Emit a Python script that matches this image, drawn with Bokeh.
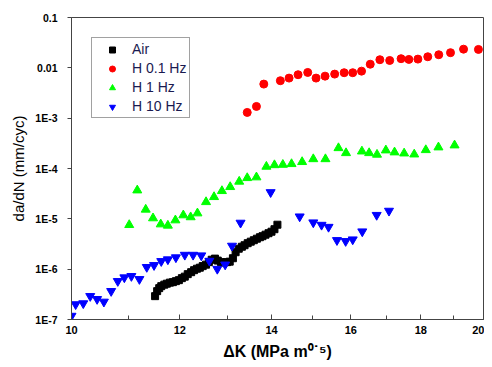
from bokeh.plotting import figure
from bokeh.models import FixedTicker, CustomJSTickFormatter, Legend, LegendItem
from bokeh.embed import file_html
from bokeh.resources import INLINE

# ---------------- data ----------------
air_k = [11.51, 11.55, 11.59, 11.63, 11.69, 11.74, 11.80, 11.86, 11.92, 11.98, 12.04, 12.10,
         12.16, 12.23, 12.29, 12.35, 12.41, 12.47, 12.54, 12.60, 12.66, 12.73, 12.79, 12.86,
         12.92, 12.99, 13.05, 13.12, 13.18, 13.25, 13.32, 13.38, 13.45, 13.52, 13.59, 13.66,
         13.73, 13.79, 13.86, 13.93, 14.00, 14.07, 14.14]
air_dadn = [2.91e-7, 3.66e-7, 4.20e-7, 4.60e-7, 4.92e-7, 5.15e-7, 5.40e-7, 5.52e-7, 5.78e-7,
            6.05e-7, 6.63e-7, 7.10e-7, 7.96e-7, 8.71e-7, 9.55e-7, 1.02e-6, 1.07e-6, 1.15e-6,
            1.23e-6, 1.38e-6, 1.54e-6, 1.62e-6, 1.48e-6, 1.38e-6, 1.35e-6, 1.38e-6, 1.41e-6,
            1.65e-6, 2.17e-6, 2.55e-6, 2.79e-6, 2.99e-6, 3.28e-6, 3.52e-6, 3.76e-6, 4.03e-6,
            4.31e-6, 4.52e-6, 4.84e-6, 5.18e-6, 5.55e-6, 6.22e-6, 7.64e-6]

h01_k = [13.44, 13.65, 13.82, 14.21, 14.42, 14.64, 14.88, 15.09, 15.32, 15.57, 15.82, 16.05,
         16.29, 16.53, 16.80, 17.08, 17.41, 17.64, 17.91, 18.21, 18.55, 18.92, 19.34, 19.83]
h01_dadn = [1.30e-3, 1.71e-3, 4.75e-3, 5.55e-3, 6.25e-3, 7.30e-3, 8.1e-3, 6.25e-3, 6.84e-3,
            7.5e-3, 8.0e-3, 8.0e-3, 8.6e-3, 1.18e-2, 1.45e-2, 1.40e-2, 1.52e-2, 1.47e-2,
            1.49e-2, 1.66e-2, 1.82e-2, 2.0e-2, 2.35e-2, 2.32e-2]

h1_k = [11.02, 11.17, 11.33, 11.47, 11.62, 11.76, 11.91, 12.07, 12.22, 12.36, 12.54, 12.71,
        12.88, 13.06, 13.26, 13.44, 13.65, 13.88, 14.07, 14.27, 14.48, 14.74, 15.02, 15.33,
        15.67, 15.87, 16.30, 16.50, 16.72, 16.97, 17.22, 17.50, 17.80, 18.15, 18.54, 19.05]
h1_dadn = [7.57e-6, 3.69e-5, 1.53e-5, 1.03e-5, 7.8e-6, 7.36e-6, 9.38e-6, 1.18e-5, 1.08e-5,
           1.29e-5, 2.16e-5, 2.72e-5, 3.58e-5, 4.3e-5, 5.5e-5, 6.48e-5, 6.7e-5, 1.09e-4,
           1.17e-4, 1.19e-4, 1.23e-4, 1.35e-4, 1.54e-4, 1.54e-4, 2.55e-4, 2.03e-4, 2.19e-4,
           2.03e-4, 1.89e-4, 2.30e-4, 2.10e-4, 2.0e-4, 1.91e-4, 2.33e-4, 2.64e-4, 2.89e-4]

h10_k = [10.00, 10.07, 10.20, 10.32, 10.44, 10.56, 10.69, 10.81, 10.93, 11.06, 11.21, 11.35,
         11.49, 11.63, 11.76, 11.92, 12.10, 12.27, 12.44, 12.61, 12.78, 12.95, 13.10, 13.29,
         13.98, 14.68, 15.02, 15.23, 15.41, 15.63, 15.86, 16.05, 16.31, 16.71, 17.06]
h10_dadn = [1.18e-7, 2.0e-7, 2.09e-7, 2.91e-7, 2.54e-7, 2.25e-7, 3.66e-7, 5.78e-7, 6.84e-7,
            7.27e-7, 6.33e-7, 1.10e-6, 1.20e-6, 1.44e-6, 1.56e-6, 1.71e-6, 1.92e-6, 1.92e-6,
            1.87e-6, 1.46e-6, 1.01e-6, 1.23e-6, 2.91e-6, 8.33e-6, 3.37e-5, 1.11e-5, 8.45e-6,
            7.57e-6, 6.9e-6, 3.76e-6, 3.6e-6, 3.88e-6, 5.6e-6, 1.19e-5, 1.44e-5]

x_ticks = [10, 12, 14, 16, 18, 20]
x_minor_ticks = [11, 13, 15, 17, 19]
x_tick_labels = ["10", "12", "14", "16", "18", "20"]
y_ticks = [1e-7, 1e-6, 1e-5, 1e-4, 1e-3, 1e-2, 1e-1]
y_tick_labels = ["1E-7", "1E-6", "1E-5", "1E-4", "1E-3", "0.01", "0.1"]

series_names = ["Air", "H 0.1 Hz", "H 1 Hz", "H 10 Hz"]
x_title = "\u0394K (MPa m\u2070\u02d9\u2075)"
y_title = "da/dN (mm/cyc)"

# ---------------- figure ----------------
p = figure(width=484, height=363, x_axis_type="log", y_axis_type="log",
           x_range=(10, 20), y_range=(1e-7, 0.1),
           output_backend="svg", toolbar_location=None,
           min_border_left=71, min_border_right=1, min_border_top=17, min_border_bottom=44)
p.xgrid.visible = False
p.ygrid.visible = False
p.outline_line_color = "#444444"
p.outline_line_width = 1
p.background_fill_color = "white"
p.border_fill_color = "white"

fmt_code = """
let best = 0, bd = Infinity;
for (let i = 0; i < tvals.length; i++) {
  const d = Math.abs(Math.log10(tvals[i]) - Math.log10(tick));
  if (d < bd) { bd = d; best = i; }
}
return tlabels[best];
"""

xa = p.xaxis[0]
xa.ticker = FixedTicker(ticks=x_ticks, minor_ticks=x_minor_ticks)
xa.formatter = CustomJSTickFormatter(args=dict(tvals=x_ticks, tlabels=x_tick_labels), code=fmt_code)
xa.major_tick_in = 5
xa.major_tick_out = 0
xa.minor_tick_in = 4
xa.minor_tick_out = 0
xa.axis_line_color = "#444444"
xa.major_tick_line_color = "#444444"
xa.minor_tick_line_color = "#444444"
xa.major_label_text_font = "Liberation Sans"
xa.major_label_text_font_style = "bold"
xa.major_label_text_font_size = "11px"
xa.major_label_text_color = "black"
xa.major_label_standoff = 6
xa.axis_label = x_title
xa.axis_label_text_font = "Liberation Sans"
xa.axis_label_text_font_style = "bold"
xa.axis_label_text_font_size = "16px"
xa.axis_label_text_color = "black"
xa.axis_label_standoff = 6

ya = p.yaxis[0]
ya.ticker = FixedTicker(ticks=y_ticks, minor_ticks=[])
ya.formatter = CustomJSTickFormatter(args=dict(tvals=y_ticks, tlabels=y_tick_labels), code=fmt_code)
ya.major_tick_in = 0
ya.major_tick_out = 4
ya.minor_tick_in = 0
ya.minor_tick_out = 0
ya.axis_line_color = "#444444"
ya.major_tick_line_color = "#444444"
ya.major_label_text_font = "Liberation Sans"
ya.major_label_text_font_style = "bold"
ya.major_label_text_font_size = "10.5px"
ya.major_label_text_color = "black"
ya.major_label_standoff = 10
ya.axis_label = y_title
ya.axis_label_text_font = "Liberation Sans"
ya.axis_label_text_font_style = "normal"
ya.axis_label_text_font_size = "15px"
ya.axis_label_text_color = "black"
ya.axis_label_standoff = 5

r_air = p.scatter(air_k, air_dadn, marker="square", size=7, color="black")
r_h01 = p.scatter(h01_k, h01_dadn, marker="circle", size=8, color="#ff0000")
r_h1 = p.scatter(h1_k, h1_dadn, marker="triangle", size=9, color="#00ff00")
r_h10 = p.scatter(h10_k, h10_dadn, marker="inverted_triangle", size=9, color="#0000ff")

legend = Legend(items=[LegendItem(label=series_names[0], renderers=[r_air]),
                       LegendItem(label=series_names[1], renderers=[r_h01]),
                       LegendItem(label=series_names[2], renderers=[r_h1]),
                       LegendItem(label=series_names[3], renderers=[r_h10])],
                location="top_left", margin=20, padding=3, spacing=3,
                glyph_width=34, glyph_height=15, label_height=15, label_standoff=3,
                label_text_font="Liberation Sans", label_text_font_size="14px",
                label_text_color="#1a1a50",
                border_line_color="#444444", border_line_width=1,
                background_fill_alpha=1.0)
p.add_layout(legend)

open("out.html", "w").write(file_html(p, INLINE))
